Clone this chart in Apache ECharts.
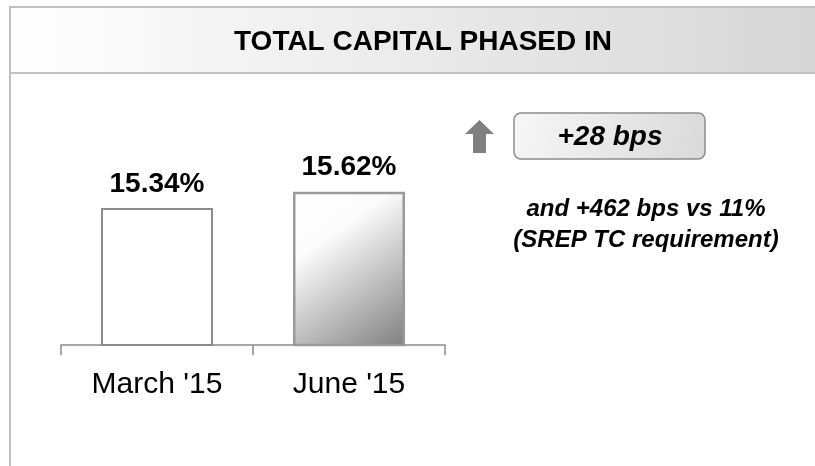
<!DOCTYPE html>
<html>
<head>
<meta charset="utf-8">
<script src="https://cdn.jsdelivr.net/npm/echarts@6/dist/echarts.min.js"></script>
<style>
  html, body { margin: 0; padding: 0; background: #fff; }
  #chart { width: 815px; height: 466px; }
</style>
</head>
<body>
<div id="chart"></div>
<script>
const chartTitle = "TOTAL CAPITAL PHASED IN";
const categories = ["March '15", "June '15"];
const values = [15.34, 15.62];
const deltaText = "+28 bps";
const noteLines = ["and +462 bps vs 11%", "(SREP TC requirement)"];

const FONT = "'Liberation Sans', Arial, sans-serif";
const BORDER = "#8c8c8c";

const chart = echarts.init(document.getElementById("chart"));

const barStyles = [
    { color: "#ffffff", borderColor: BORDER, borderWidth: 2 },
    {
        color: new echarts.graphic.LinearGradient(0, 0, 1, 1, [
            { offset: 0, color: "#ffffff" },
            { offset: 0.3, color: "#fcfcfc" },
            { offset: 1, color: "#7f7f7f" }
        ]),
        borderColor: "#999999",
        borderWidth: 2.5
    }
];

const option = {
    animation: false,
    backgroundColor: "#ffffff",
    grid: { left: 61, right: 370, top: 111, bottom: 121 },
    xAxis: {
        type: "category",
        data: categories,
        axisLine: { lineStyle: { color: BORDER, width: 1.5 } },
        axisTick: { show: true, length: 10, lineStyle: { color: BORDER, width: 1.5 } },
        axisLabel: { color: "#000", fontSize: 30, fontFamily: FONT, margin: 25 }
    },
    yAxis: {
        type: "value",
        min: 13,
        max: 17,
        show: false,
        splitLine: { show: false }
    },
    series: [{
        type: "bar",
        barWidth: 112,
        data: values.map((v, i) => ({ value: v, itemStyle: barStyles[i] })),
        label: {
            show: true,
            position: "top",
            distance: 10,
            formatter: (p) => p.value.toFixed(2) + "%",
            color: "#000",
            fontSize: 28,
            fontWeight: "bold",
            fontFamily: FONT
        }
    }],
    graphic: [
        // header band
        {
            type: "rect",
            shape: { x: 10, y: 7, width: 810, height: 66 },
            style: {
                fill: new echarts.graphic.LinearGradient(0, 0, 1, 0, [
                    { offset: 0, color: "#ffffff" },
                    { offset: 1, color: "#d6d6d6" }
                ]),
                stroke: "#c0c0c0",
                lineWidth: 2
            },
            z: 0
        },
        {
            type: "line",
            shape: { x1: 10, y1: 73, x2: 10, y2: 466 },
            style: { stroke: "#c0c0c0", lineWidth: 2 }
        },
        {
            type: "text",
            style: {
                x: 423, y: 42,
                text: chartTitle,
                textAlign: "center",
                textVerticalAlign: "middle",
                font: "bold 28px " + FONT,
                fill: "#000"
            },
            z: 5
        },
        // up arrow
        {
            type: "polygon",
            shape: { points: [[479.5, 120], [494, 134], [486, 134], [486, 153], [473, 153], [473, 134], [465, 134]] },
            style: { fill: "#808080" }
        },
        // delta box
        {
            type: "rect",
            shape: { x: 514, y: 113, width: 191, height: 46, r: 7 },
            style: {
                fill: new echarts.graphic.LinearGradient(0, 0, 1, 1, [
                    { offset: 0, color: "#f7f7f7" },
                    { offset: 1, color: "#d9d9d9" }
                ]),
                stroke: "#8c8c8c",
                lineWidth: 1.5
            }
        },
        {
            type: "text",
            style: {
                x: 610, y: 137,
                text: deltaText,
                textAlign: "center",
                textVerticalAlign: "middle",
                font: "italic bold 28px " + FONT,
                fill: "#000"
            },
            z: 5
        },
        {
            type: "text",
            style: {
                x: 646, y: 209,
                text: noteLines[0],
                textAlign: "center",
                textVerticalAlign: "middle",
                font: "italic bold 24px " + FONT,
                fill: "#000"
            }
        },
        {
            type: "text",
            style: {
                x: 646, y: 240,
                text: noteLines[1],
                textAlign: "center",
                textVerticalAlign: "middle",
                font: "italic bold 24px " + FONT,
                fill: "#000"
            }
        }
    ]
};

chart.setOption(option);
</script>
</body>
</html>
